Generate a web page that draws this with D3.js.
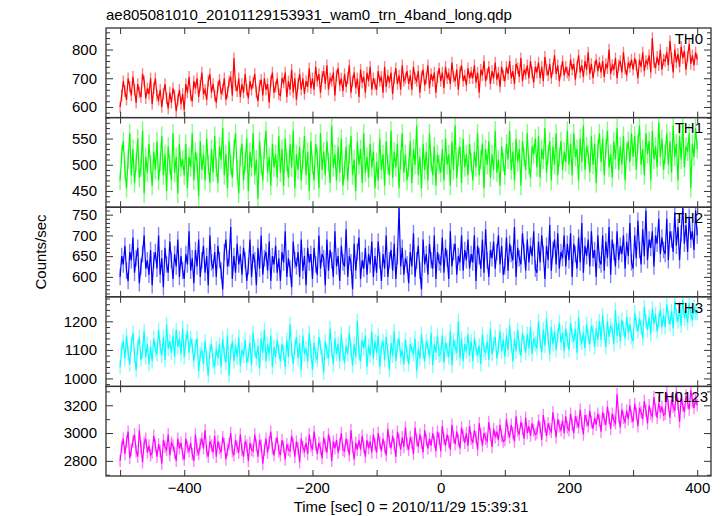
<!DOCTYPE html>
<html><head><meta charset="utf-8">
<script src="https://cdn.jsdelivr.net/npm/d3@7"></script>
<style>body{margin:0;background:#fff}svg{display:block;font-family:"Liberation Sans",Arial,Helvetica,sans-serif}</style>
</head><body><svg id="c" width="723" height="516"></svg>
<script>
// ---- data (2.5 s sampling) ----
const title = "ae805081010_20101129153931_wam0_trn_4band_long.qdp";
const xTitle = "Time [sec] 0 = 2010/11/29 15:39:31";
const yTitle = "Counts/sec";
const tStart = -500, tStep = 2.5;
const panelNames = ["TH0", "TH1", "TH2", "TH3", "TH0123"];
const xTickValues = [-500, -400, -300, -200, -100, 0, 100, 200, 300, 400];
const xTickLabels = [-400, -200, 0, 200, 400];
const yLabelTicks = [[600, 700, 800], [450, 500, 550], [600, 650, 700, 750], [1000, 1100, 1200], [2800, 3000, 3200]];
const yMinorStep = [20, 10, 10, 20, 100];
const yDomains = [[563, 875], [419, 590], [552, 768], [972, 1286], [2691, 3336]];
const errors = [20, 18, 20, 26, 45];

const th0 = [
600,640,690,655,625,700,670,640,705,660,615,680,650,635,715,690,630,665,645,700,
610,665,700,640,625,660,600,645,680,630,595,650,615,665,640,585,625,660,610,645,
590,680,650,705,640,620,690,665,700,635,675,720,645,660,625,690,715,650,680,640,
615,670,695,645,660,700,625,650,690,705,640,770,675,655,700,635,680,650,715,660,
630,690,660,685,715,650,620,675,695,640,700,660,680,615,690,720,650,670,700,645,
640,700,685,720,635,690,660,730,650,700,625,680,715,660,700,645,690,670,735,665,
700,660,740,690,715,650,705,725,680,745,660,700,690,720,640,710,735,675,700,655,
715,670,700,745,650,690,720,665,700,635,730,685,705,650,720,690,740,660,700,680,
660,725,690,705,650,740,670,710,685,720,645,700,735,680,710,660,745,690,700,725,
680,710,660,740,700,690,725,650,705,730,675,700,745,665,715,690,720,650,705,735,
690,720,665,740,700,715,680,755,705,690,730,660,720,745,690,710,675,735,700,720,
700,745,685,720,650,730,710,760,690,715,740,680,725,700,755,695,720,670,740,710,
690,740,715,760,700,725,680,750,735,705,770,690,730,715,745,700,760,720,685,740,
720,755,700,740,690,775,730,710,750,700,735,780,715,745,690,725,760,710,740,720,
710,765,730,750,695,740,780,720,745,705,760,730,790,715,750,700,740,765,725,755,
720,760,705,750,735,800,715,745,730,770,700,745,760,720,790,735,710,755,740,765,
730,770,745,700,765,740,790,725,760,750,780,720,840,755,735,775,745,800,730,765,
760,790,745,830,770,720,800,755,785,740,810,770,795,730,775,820,750,780,745,790,
765];
const th1 = [
470,520,545,490,455,510,560,480,530,465,505,550,475,495,565,445,515,485,540,500,
460,525,490,545,470,505,555,480,520,450,535,500,470,560,485,515,445,540,495,510,
480,540,455,515,495,560,470,525,505,440,545,490,520,470,550,500,465,530,485,555,
495,465,535,510,570,480,520,455,545,500,475,530,560,490,445,515,540,470,505,550,
450,525,495,560,480,510,435,545,500,470,530,565,485,515,460,540,495,520,475,555,
485,530,460,550,505,475,540,495,565,455,520,490,535,470,510,555,480,525,450,545,
500,470,540,515,455,560,490,525,480,545,505,465,575,495,520,470,535,485,550,460,
490,535,470,520,555,480,510,450,545,500,530,465,560,485,515,475,540,495,525,455,
505,470,550,490,520,460,545,500,480,565,475,525,495,540,455,510,560,485,520,470,
495,545,465,530,500,575,480,515,455,540,490,525,470,560,505,480,535,460,520,500,
485,530,470,550,500,520,460,545,490,575,475,515,535,465,550,495,520,480,540,505,
470,525,495,560,480,510,540,455,530,500,545,475,520,490,565,485,510,460,535,505,
480,540,510,565,490,525,470,550,505,530,460,545,515,490,560,500,475,535,520,550,
495,555,475,530,510,570,485,520,545,470,535,500,560,480,515,545,490,525,505,565,
500,540,480,560,515,530,470,550,505,575,490,535,520,485,555,500,540,465,530,560,
505,550,480,530,565,495,520,475,545,510,570,490,535,500,555,470,525,545,505,560,
515,555,490,540,575,500,530,480,560,520,545,470,565,510,535,495,580,515,550,490,
520,560,500,545,485,575,515,540,470,555,510,580,495,535,525,560,455,540,515,570,
530];
const th2 = [
600,650,630,675,615,590,660,640,695,610,645,670,585,625,655,700,620,640,605,665,
580,640,660,620,700,605,645,575,670,630,610,685,640,595,655,625,690,600,650,615,
595,655,630,710,615,645,585,665,625,690,600,640,675,610,650,580,700,635,620,660,
600,675,640,615,570,660,690,625,645,720,595,650,610,680,630,655,605,670,640,590,
625,690,600,655,640,580,670,620,700,605,645,660,615,685,590,650,630,675,610,645,
590,660,635,710,600,645,620,575,685,640,625,660,600,690,615,650,580,670,635,655,
595,670,630,605,700,620,655,645,580,690,615,665,640,600,710,625,650,590,675,635,
625,715,600,650,635,570,680,615,660,695,595,640,620,670,605,655,630,685,600,650,
610,685,640,590,655,620,700,600,640,665,615,680,595,650,766,625,670,605,645,630,
585,660,625,705,600,640,675,615,570,690,630,655,605,680,640,620,700,595,660,635,
630,695,610,670,645,595,710,625,660,680,605,650,635,700,615,665,640,690,620,655,
635,700,590,675,650,620,690,610,715,640,600,665,645,685,620,660,700,630,675,605,
625,695,615,680,655,640,720,600,670,645,630,705,660,615,690,635,675,650,710,620,
610,685,635,700,655,595,675,640,725,615,665,690,630,705,620,660,645,700,625,680,
640,705,600,680,655,620,695,635,730,610,675,650,690,625,710,645,665,600,700,640,
630,700,615,685,645,720,605,690,660,625,710,640,675,655,700,620,685,650,730,635,
620,700,645,735,665,630,715,650,760,640,690,670,710,625,700,680,740,655,695,665,
655,740,640,710,690,660,755,675,720,640,705,768,680,725,660,745,690,710,665,760,
700];
const th3 = [
1040,1100,1130,1070,1150,1090,1050,1120,1160,1080,1030,1110,1145,1065,1095,1165,1075,1120,1050,1110,
1060,1140,1100,1085,1170,1110,1080,1145,1065,1190,1105,1130,1090,1150,1075,1170,1110,1140,1085,1175,
1075,1130,1165,1090,1140,1115,1060,1110,1140,1025,1085,1100,1050,1130,1070,1010,1095,1120,1060,1040,
1105,1070,1120,1040,1140,1085,1055,1150,1010,1095,1130,1060,1115,1075,1145,1045,1100,1080,1135,1055,
1080,1125,1045,1160,1100,1070,1115,1035,1140,1090,1170,1060,1120,1085,1150,1040,1110,1075,1135,1095,
1060,1120,1090,1040,1135,1075,1190,1100,1050,1110,1145,1070,1125,1030,1150,1085,1105,1060,1160,1095,
1030,1125,1080,1065,1145,1110,1080,1020,1130,1095,1070,1175,1100,1050,1140,1085,1120,1060,1155,1090,
1055,1115,1085,1160,1100,1045,1120,1075,1200,1090,1060,1135,1105,1150,1040,1115,1080,1165,1070,1130,
1090,1150,1040,1110,1130,1065,1145,1095,1030,1125,1080,1165,1060,1115,1140,1075,1100,1050,1135,1085,
1050,1120,1100,1085,1140,1025,1105,1070,1155,1095,1060,1130,1110,1075,1160,1045,1120,1090,1150,1080,
1085,1150,1055,1125,1100,1075,1165,1045,1135,1110,1090,1200,1070,1140,1060,1120,1095,1155,1080,1130,
1060,1140,1105,1080,1115,1050,1155,1100,1090,1130,1065,1175,1085,1120,1145,1070,1110,1165,1095,1135,
1075,1150,1100,1185,1120,1060,1140,1095,1170,1110,1080,1160,1125,1090,1155,1105,1180,1085,1140,1120,
1105,1200,1130,1090,1170,1115,1210,1140,1085,1180,1120,1165,1100,1150,1195,1125,1160,1095,1175,1135,
1100,1195,1150,1130,1175,1090,1215,1140,1125,1160,1105,1190,1145,1120,1185,1160,1110,1175,1135,1200,
1135,1220,1160,1110,1200,1145,1185,1170,1120,1240,1150,1195,1130,1205,1175,1140,1215,1160,1190,1145,
1130,1230,1190,1165,1210,1180,1140,1250,1200,1170,1215,1155,1245,1190,1225,1165,1205,1240,1180,1220,
1180,1260,1215,1190,1235,1175,1270,1220,1200,1245,1185,1275,1210,1240,1195,1265,1225,1205,1250,1230,
1230];
const th0123 = [
2800,2900,2960,2850,2940,3010,2820,2880,2940,2990,2870,2830,3020,2900,2790,2930,2960,2860,2910,2840,
2860,2980,2910,2830,2920,2870,2780,2950,2900,2880,2990,2840,2930,2910,2860,2800,2960,2890,2930,2850,
2810,2960,2900,2870,2930,2850,2800,2990,2880,2850,2920,2960,2890,3020,2870,2830,2940,2910,2860,2980,
2830,2940,2890,2860,2970,2920,2810,2880,2920,3000,2870,2840,2950,2900,2860,2990,2880,2830,2940,2910,
2800,2930,2880,2870,2990,2910,2830,2950,2910,2780,2880,2960,2860,2930,3010,2890,2840,2920,2970,2870,
2840,2950,2900,2810,2920,2880,2870,2980,2920,2830,2940,2890,2790,2960,2900,2870,2930,2850,2990,2910,
2880,3010,2920,2850,2930,2890,2820,2970,2910,2860,2990,2930,2800,2940,2890,2950,2860,2920,3000,2880,
2870,2960,2910,2840,3020,2900,2810,2930,2880,2950,2880,2980,2900,2830,2950,2890,2940,2860,2990,2920,
2860,3000,2930,2870,2960,2900,2840,3030,2940,2890,2980,2920,2830,3010,2950,2880,2970,2900,3040,2920,
2880,2970,2930,2850,3040,2950,2900,2990,2930,2860,3020,2950,2890,2960,2910,3000,2940,2870,3010,2960,
2870,3050,2960,2910,2990,2940,2880,3060,2970,2920,3010,2950,2890,3040,2980,2930,3000,2910,3050,2960,
2930,3020,2970,2880,3070,2990,2910,3000,2960,2940,3080,2990,2900,3030,2970,3010,2950,3060,2980,2940,
2950,3100,3010,2970,3060,3000,2940,3120,3020,2990,3080,3030,2960,3110,3000,3050,2980,3070,3020,2990,
3000,3090,3040,2950,3130,3050,2980,3070,3030,3010,3150,3060,2970,3100,3050,3020,3090,3000,3120,3040,
3020,3140,3060,3000,3120,3080,3040,3170,3070,2990,3130,3090,3050,3160,3080,3030,3110,3060,3140,3090,
3010,3150,3100,3060,3190,3110,3030,3140,3090,3070,3280,3120,3040,3170,3110,3080,3160,3100,3200,3120,
3080,3210,3140,3050,3180,3150,3100,3230,3160,3070,3200,3140,3120,3260,3170,3110,3220,3150,3190,3130,
3140,3290,3200,3110,3240,3190,3160,3300,3210,3080,3250,3200,3150,3270,3220,3170,3310,3230,3180,3250,
3200];
const seriesValues = [th0, th1, th2, th3, th0123];
const colors = ["#ff0000", "#00ff00", "#0000ff", "#00ffff", "#ff00ff"];

// ---- layout ----
const svg = d3.select("#c");
const L = 106, R = 711, TOP = 28, BOT = 476;
const nP = panelNames.length;
const ph = (BOT - TOP) / nP;
const labelRight = [703, 703, 703, 703, 708];
const axisColor = "#333";
const fontFam = "Liberation Sans, Arial, sans-serif";

const x = d3.scaleLinear().domain([-522, 421.5]).range([L, R]);

svg.append("text").attr("x", L).attr("y", 20).attr("font-size", 15).attr("fill", "#000").text(title);

seriesValues.forEach((vals, i) => {
  const top = TOP + i * ph, bottom = top + ph;
  const y = d3.scaleLinear().domain(yDomains[i]).range([bottom, top]);
  const pts = vals.map((v, j) => ({t: tStart + j * tStep, v}));
  const clipId = "clip" + i;
  svg.append("clipPath").attr("id", clipId).append("rect")
    .attr("x", L).attr("y", top).attr("width", R - L).attr("height", ph);
  const g = svg.append("g").attr("clip-path", `url(#${clipId})`);
  const e = errors[i];
  g.selectAll("line.err").data(pts).join("line").attr("class", "err")
    .attr("x1", d => x(d.t)).attr("x2", d => x(d.t))
    .attr("y1", d => y(d.v - e)).attr("y2", d => y(d.v + e))
    .attr("stroke", colors[i]).attr("stroke-opacity", 0.5).attr("stroke-width", 1.4);
  g.append("path").datum(pts)
    .attr("d", d3.line().x(d => x(d.t)).y(d => y(d.v)))
    .attr("fill", "none").attr("stroke", colors[i]).attr("stroke-width", 1.2);

  const [d0, d1] = yDomains[i];
  const minors = [];
  for (let k = Math.ceil(d0 / yMinorStep[i]); k * yMinorStep[i] <= d1; k++) {
    const val = k * yMinorStep[i];
    if (!yLabelTicks[i].includes(val)) minors.push(val);
  }
  const styleAxis = sel => { sel.select(".domain").remove(); sel.selectAll("line").attr("stroke", axisColor); };
  svg.append("g").attr("transform", `translate(${L},0)`)
    .call(d3.axisLeft(y).tickValues(yLabelTicks[i]).tickSize(-7).tickPadding(9).tickFormat(d3.format("d")))
    .call(styleAxis)
    .call(s => s.selectAll("text").attr("font-size", 15).attr("fill", "#000").attr("font-family", fontFam));
  svg.append("g").attr("transform", `translate(${L},0)`)
    .call(d3.axisLeft(y).tickValues(minors).tickSize(-4).tickFormat(""))
    .call(styleAxis);
  svg.append("g").attr("transform", `translate(${R},0)`)
    .call(d3.axisRight(y).tickValues(yLabelTicks[i]).tickSize(-7).tickFormat(""))
    .call(styleAxis);
  svg.append("g").attr("transform", `translate(${R},0)`)
    .call(d3.axisRight(y).tickValues(minors).tickSize(-4).tickFormat(""))
    .call(styleAxis);
  svg.append("g").attr("transform", `translate(0,${top})`)
    .call(d3.axisTop(x).tickValues(xTickValues).tickSize(-6).tickFormat(""))
    .call(styleAxis);
  const isLast = i === nP - 1;
  svg.append("g").attr("transform", `translate(0,${bottom})`)
    .call(d3.axisBottom(x).tickValues(xTickValues).tickSize(-6).tickPadding(6)
      .tickFormat(d => (isLast && xTickLabels.includes(d)) ? d3.format("d")(d) : ""))
    .call(styleAxis)
    .call(s => s.selectAll("text").attr("font-size", 15).attr("fill", "#000").attr("font-family", fontFam));

  svg.append("rect").attr("x", L).attr("y", top).attr("width", R - L).attr("height", ph)
    .attr("fill", "none").attr("stroke", axisColor).attr("stroke-width", 1.3);

  svg.append("text").attr("x", labelRight[i]).attr("y", top + 15.8)
    .attr("text-anchor", "end").attr("font-size", 15).attr("fill", "#000").text(panelNames[i]);
});

svg.append("text").attr("x", 411).attr("y", 512).attr("text-anchor", "middle")
  .attr("font-size", 15).attr("fill", "#000").text(xTitle);
svg.append("text").attr("transform", "translate(46,252) rotate(-90)").attr("text-anchor", "middle")
  .attr("font-size", 15).attr("fill", "#000").text(yTitle);
</script></body></html>
